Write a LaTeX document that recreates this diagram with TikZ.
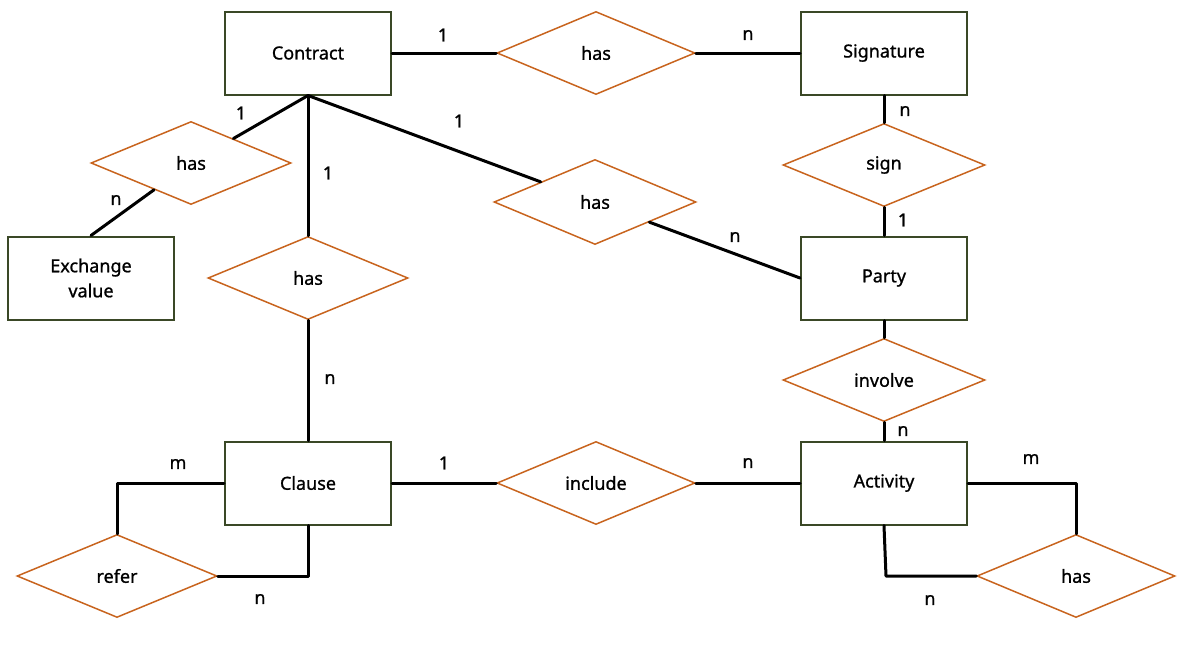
\documentclass[tikz,border=0pt]{standalone}
\usepackage{fontspec}
\setmainfont[FakeBold=1]{Noto Sans}
\usetikzlibrary{shapes.geometric}
\definecolor{entc}{RGB}{58,72,38}
\definecolor{relc}{RGB}{200,100,30}
\tikzset{
  ent/.style={draw=entc, line width=2pt, minimum width=166pt, minimum height=83pt, inner sep=0pt, align=center, font=\fontsize{18}{24}\selectfont},
  rel/.style={diamond, draw=relc, line width=1.5pt, minimum width=200pt, minimum height=83pt, inner sep=0pt, font=\fontsize{18}{22}\selectfont},
  conn/.style={line width=3pt, line cap=round, line join=round},
  card/.style={font=\fontsize{18}{22}\selectfont, inner sep=0pt}
}
\begin{document}
\begin{tikzpicture}[x=1pt,y=-1pt]
\useasboundingbox (0,0) rectangle (1184,665);
% entities
\node[ent] (contract) at (308,53) {Contract};
\node[ent] (signature) at (884,53) {Signature};
\node[ent] (exch) at (91,278) {Exchange\\[1pt]value};
\node[ent] (party) at (884,278) {Party};
\node[ent] (clause) at (308,483) {Clause};
\node[ent] (activity) at (884,483) {Activity};
% relationships
\node[rel, minimum width=198pt] (hasT) at (596,53) {has};
\node[rel] (hasL) at (191,163) {has};
\node[rel] (hasM) at (308,278) {has};
\node[rel, minimum width=202pt, minimum height=85pt] (hasC) at (595,202) {has};
\node[rel, minimum width=202pt] (sign) at (884,165) {sign};
\node[rel, minimum width=202pt] (involve) at (884,380) {involve};
\node[rel, minimum width=198pt] (include) at (596,483) {include};
\node[rel] (refer) at (117,576) {refer};
\node[rel, minimum width=198pt] (hasR) at (1076,576) {has};
% corner coordinates
\coordinate (c1) at (117,483);
\coordinate (c2) at (308,576);
\coordinate (c3) at (1076,483);
\coordinate (c4) at (886,576);
% connectors
\draw[conn] (contract.east) -- (hasT.west);
\draw[conn] (hasT.east) -- (signature.west);
\draw[conn] (contract.south) -- (hasL);
\draw[conn] (hasL) -- (exch.north);
\draw[conn] (contract.south) -- (hasM.north);
\draw[conn] (contract.south) -- (hasC);
\draw[conn] (hasC) -- (party.west);
\draw[conn] (signature.south) -- (sign.north);
\draw[conn] (sign.south) -- (party.north);
\draw[conn] (party.south) -- (involve.north);
\draw[conn] (involve.south) -- (activity.north);
\draw[conn] (hasM.south) -- (clause.north);
\draw[conn] (clause.east) -- (include.west);
\draw[conn] (include.east) -- (activity.west);
\draw[conn] (clause.west) -- (c1) -- (refer.north);
\draw[conn] (clause.south) -- (c2) -- (refer.east);
\draw[conn] (activity.east) -- (c3) -- (hasR.north);
\draw[conn] (activity.south) -- (c4) -- (hasR.west);
% cardinalities
\node[card] (l1) at (443,35) {1};
\node[card] (l2) at (748,35) {n};
\node[card] (l3) at (241,113) {1};
\node[card] (l4) at (116,200) {n};
\node[card] (l5) at (328,173) {1};
\node[card] (l6) at (459,121) {1};
\node[card] (l7) at (735,237) {n};
\node[card] (l8) at (905,111) {n};
\node[card] (l9) at (903,220) {1};
\node[card] (l10) at (903,431) {n};
\node[card] (l11) at (330,379) {n};
\node[card] (l12) at (444,463) {1};
\node[card] (l13) at (748,463) {n};
\node[card] (l14) at (178,464) {m};
\node[card] (l15) at (260,599) {n};
\node[card] (l16) at (1031,459) {m};
\node[card] (l17) at (930,600) {n};
\end{tikzpicture}
\end{document}
